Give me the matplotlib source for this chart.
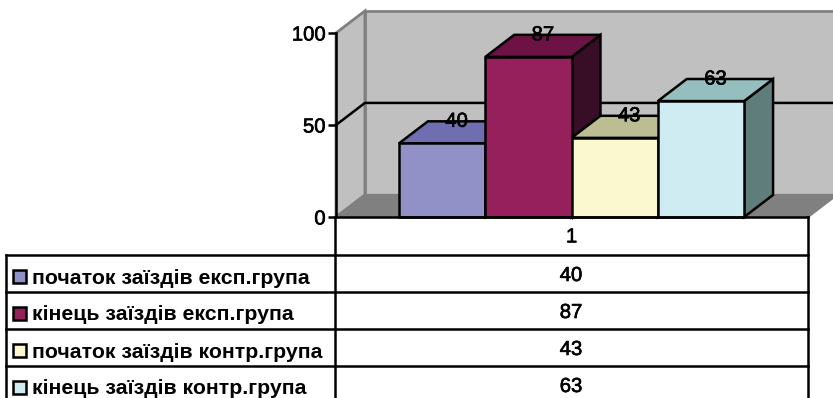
import matplotlib
matplotlib.use("Agg")
import matplotlib.pyplot as plt
from matplotlib.patches import Polygon, Rectangle
import matplotlib.patheffects as pe

plt.rcParams['font.family'] = ['Liberation Sans', 'DejaVu Sans']

series = ["початок заїздів експ.група", "кінець заїздів експ.група",
          "початок заїздів контр.група", "кінець заїздів контр.група"]
values = [40, 87, 43, 63]
categories = ["1"]
yticks = [0, 50, 100]

front_colors = ["#9191C8", "#95205C", "#FBF7CF", "#CFECF3"]
top_colors = ["#6E6EB0", "#6C1244", "#BDBD94", "#95BFBF"]
side_colors = ["#4A4A80", "#380E26", "#8C8C6C", "#5F7D7B"]

WALL = "#C0C0C0"
FLOOR = "#808080"
DX = 0.335   # depth of the box in bar widths
DY = 12      # depth of the box in value units
LW = 1.8
xmin, xmax = -1.23, 4.24

bold = [pe.withStroke(linewidth=0.45, foreground="black")]

fig = plt.figure(figsize=(8.33, 3.98), dpi=100)
ax = fig.add_axes([336 / 833, 1 - 217 / 398, 472 / 833, 184 / 398])
ax.set_xlim(xmin, xmax)
ax.set_ylim(0, 100)


def poly(points, face, edge="black", lw=LW, z=1):
    ax.add_patch(Polygon(points, closed=True, facecolor=face, edgecolor=edge,
                         linewidth=lw, joinstyle="miter", clip_on=False, zorder=z))


# walls and floor
poly([(xmin, 0), (xmin + DX, DY), (xmin + DX, 100 + DY), (xmin, 100)], WALL, FLOOR, 2)
poly([(xmin + DX, DY), (xmax + DX, DY), (xmax + DX, 100 + DY), (xmin + DX, 100 + DY)], WALL, FLOOR, 2)
poly([(xmin, 0), (xmax, 0), (xmax + DX, DY), (xmin + DX, DY)], FLOOR, FLOOR, 1.5)

# gridline at 50 along the side and back walls
ax.plot([xmin, xmin + DX, xmax + DX], [50, 50 + DY, 50 + DY], color="black",
        lw=LW, clip_on=False, zorder=2)

# 3d bars, left to right so that later boxes cover earlier sides
for i, v in enumerate(values):
    left, right = i - 0.5, i + 0.5
    z = 3 + i
    poly([(right, 0), (right + DX, DY), (right + DX, v + DY), (right, v)], side_colors[i], z=z)
    poly([(left, v), (right, v), (right + DX, v + DY), (left + DX, v + DY)], top_colors[i], z=z)
    poly([(left, 0), (right, 0), (right, v), (left, v)], front_colors[i], z=z)

for i, v in enumerate(values):
    t = ax.text(i + DX / 2, v + DY, str(v), ha="center", va="center", fontsize=14.6, zorder=10)
    t.set_path_effects(bold)

for s in ["top", "right"]:
    ax.spines[s].set_visible(False)
for s in ["left", "bottom"]:
    ax.spines[s].set_linewidth(LW)
    ax.spines[s].set_zorder(9)
ax.patch.set_visible(False)
ax.set_yticks(yticks)
ax.tick_params(axis="y", length=5.5, width=LW, pad=2, labelsize=14.6)
ax.set_xticks([1.5], categories)
ax.tick_params(axis="x", length=1.5, width=1, pad=6, labelsize=14.6)
for t in ax.get_yticklabels() + ax.get_xticklabels():
    t.set_path_effects(bold)

# data table under the plot, laid out in pixels
tb = fig.add_axes([0, 0, 1, 1], zorder=20)
tb.set_xlim(0, 833)
tb.set_ylim(398, 0)
tb.axis("off")
row_tops = [255, 292, 329, 366]
row_h = 37
tb.plot([335, 335], [217, 398], color="black", lw=LW)
tb.plot([808, 808], [217, 398], color="black", lw=LW)
tb.plot([6, 6], [255, 398], color="black", lw=LW)
for y in row_tops:
    tb.plot([6, 808], [y, y], color="black", lw=LW)
for y, name, v, c in zip(row_tops, series, values, front_colors):
    cy = y + row_h / 2 + 3
    tb.add_patch(Rectangle((13, cy - 7), 13, 13, facecolor=c, edgecolor="black", linewidth=LW))
    tb.text(32, cy + 1.5, name, ha="left", va="center", fontsize=15.3, fontweight="bold")
    t2 = tb.text(571, cy - 1, str(v), ha="center", va="center", fontsize=14.6)
    t2.set_path_effects(bold)

plt.savefig("out.png", dpi=100)
